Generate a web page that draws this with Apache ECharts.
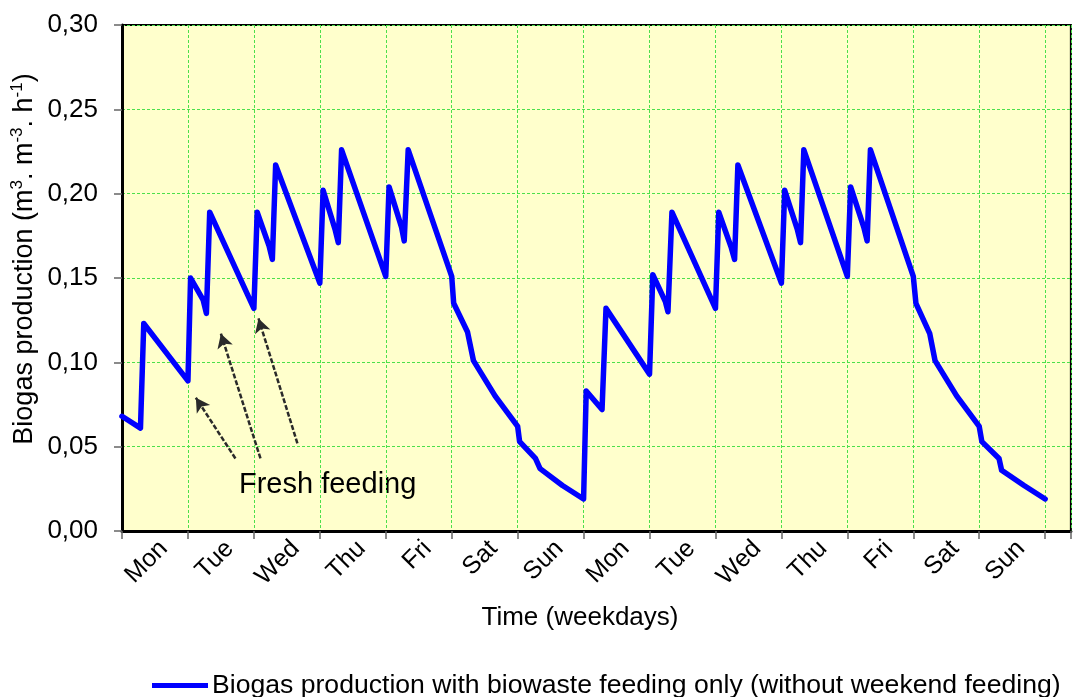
<!DOCTYPE html>
<html>
<head>
    <meta charset="utf-8">
    <title>Biogas production</title>
    <script src="https://cdn.jsdelivr.net/npm/echarts@6/dist/echarts.min.js"></script>
</head>
<body style="margin:0px;background-color:#ffffff;">
    <div id="main" style="width:1073px;height:697px;"></div>
    <script type="text/javascript">
        // weekday labels, one per day band
        var dayLabels = ['Mon', 'Tue', 'Wed', 'Thu', 'Fri', 'Sat', 'Sun',
                         'Mon', 'Tue', 'Wed', 'Thu', 'Fri', 'Sat', 'Sun'];
        var yTicks = [0, 0.05, 0.10, 0.15, 0.20, 0.25, 0.30];
        // visible part of the time axis (days), plot runs past the right edge
        var xRange = [0, 14.39];

        // time in days since Monday 0:00
        var timeDays = [
            0.00, 0.28, 0.33, 1.00, 1.04, 1.23, 1.28, 1.33, 2.00, 2.05,
            2.23, 2.28, 2.33, 3.00, 3.05, 3.23, 3.28, 3.33, 4.00, 4.05,
            4.24, 4.28, 4.34, 5.00, 5.03, 5.24, 5.33, 5.66, 6.00, 6.03,
            6.27, 6.34, 6.68, 7.00,
            7.04, 7.28, 7.34, 8.00, 8.05, 8.24, 8.28, 8.34, 9.00, 9.05,
            9.24, 9.29, 9.34, 10.00, 10.05, 10.24, 10.29, 10.34, 11.00, 11.05,
            11.25, 11.30, 11.35, 12.00, 12.04, 12.25, 12.33, 12.66, 13.00, 13.04,
            13.30, 13.34, 13.68, 14.00
        ];
        // biogas production (m3 / m3 / h)
        var biogas = [
            0.068, 0.061, 0.123, 0.089, 0.150, 0.137, 0.129, 0.189, 0.132, 0.189,
            0.169, 0.161, 0.217, 0.147, 0.202, 0.179, 0.171, 0.226, 0.151, 0.204,
            0.180, 0.172, 0.226, 0.151, 0.135, 0.118, 0.101, 0.080, 0.062, 0.053,
            0.043, 0.037, 0.027, 0.019,
            0.083, 0.072, 0.132, 0.093, 0.152, 0.136, 0.130, 0.189, 0.132, 0.189,
            0.168, 0.161, 0.217, 0.147, 0.202, 0.179, 0.171, 0.226, 0.151, 0.204,
            0.180, 0.172, 0.226, 0.151, 0.135, 0.117, 0.101, 0.080, 0.062, 0.053,
            0.043, 0.036, 0.027, 0.019
        ];

        // "Fresh feeding" arrows: [tailDay, tailValue, headDay, headValue]
        var feedArrows = [
            [1.72, 0.043, 1.12, 0.079],
            [2.10, 0.043, 1.50, 0.117],
            [2.66, 0.052, 2.07, 0.126]
        ];

        var seriesName = 'Biogas production with biowaste feeding only (without weekend feeding)';
        var fontFam = '"Liberation Sans", Arial, sans-serif';

        var points = [];
        for (var i = 0; i < timeDays.length; i++) {
            points.push([timeDays[i], biogas[i]]);
        }
        var arrowLines = feedArrows.map(function (a) {
            return [{ coord: [a[0], a[1]] }, { coord: [a[2], a[3]] }];
        });

        // day name sits in the middle of its band (x.5)
        function dayLabel(v) {
            var d = Math.floor(v + 1e-6);
            if (Math.abs(v - d - 0.5) < 1e-6 && d < dayLabels.length) {
                return dayLabels[d];
            }
            return '';
        }

        var gridLine = { show: true, lineStyle: { color: '#4be04b', width: 1, type: [3, 2] } };

        var myChart = echarts.init(document.getElementById('main'));
        var option = {
            animation: false,
            backgroundColor: '#ffffff',
            textStyle: { fontFamily: fontFam },
            grid: {
                left: 122, top: 25, right: 0, height: 506,
                show: true, backgroundColor: '#ffffcc',
                borderColor: '#000000', borderWidth: 2
            },
            legend: {
                left: 152, top: 672, padding: 0,
                icon: 'rect', itemWidth: 56, itemHeight: 5, itemGap: 4,
                textStyle: { fontSize: 26.6, color: '#000', fontFamily: fontFam, padding: [0, 0, 0, -1] },
                data: [seriesName]
            },
            xAxis: [{
                type: 'value', position: 'bottom',
                min: xRange[0], max: xRange[1], interval: 1,
                axisLine: { show: true, onZero: false, lineStyle: { color: '#000', width: 3 } },
                axisTick: { show: true, length: 8, lineStyle: { color: '#666', width: 1.5 } },
                axisLabel: { show: false },
                splitLine: gridLine
            }, {
                type: 'value', position: 'bottom',
                min: xRange[0], max: xRange[1], interval: 0.5,
                axisLine: { show: false },
                axisTick: { show: false },
                splitLine: { show: false },
                axisLabel: {
                    rotate: 45, margin: 5, verticalAlign: 'top', align: 'right',
                    fontSize: 25, color: '#000', fontFamily: fontFam,
                    showMinLabel: true, showMaxLabel: true,
                    formatter: dayLabel
                }
            }],
            yAxis: {
                type: 'value',
                min: yTicks[0], max: yTicks[yTicks.length - 1], interval: 0.05,
                axisLine: { show: true, lineStyle: { color: '#000', width: 3 } },
                axisTick: { show: true, length: 8, lineStyle: { color: '#666', width: 1.5 } },
                axisLabel: {
                    margin: 24, fontSize: 26, color: '#000', fontFamily: fontFam,
                    formatter: function (v) { return v.toFixed(2).replace('.', ','); }
                },
                splitLine: gridLine
            },
            graphic: [{
                type: 'text',
                x: 25, y: 259, rotation: Math.PI / 2,
                style: {
                    text: '{a|Biogas production (m}{s|3}{a|. m}{s|-3}{a|. h}{s|-1}{a|)}',
                    align: 'center', verticalAlign: 'middle', fill: '#000',
                    rich: {
                        a: { fontSize: 27, fontFamily: fontFam, fill: '#000', lineHeight: 32 },
                        s: { fontSize: 17, fontFamily: fontFam, fill: '#000', verticalAlign: 'top', lineHeight: 32 }
                    }
                }
            }, {
                type: 'text',
                x: 580, y: 618,
                style: {
                    text: 'Time (weekdays)', font: '26px ' + fontFam,
                    align: 'center', verticalAlign: 'middle', fill: '#000'
                }
            }, {
                type: 'text',
                x: 239, y: 485,
                style: {
                    text: 'Fresh feeding', font: '29px ' + fontFam,
                    align: 'left', verticalAlign: 'middle', fill: '#000'
                }
            }],
            series: [{
                name: seriesName,
                type: 'line',
                xAxisIndex: 0,
                data: points,
                showSymbol: false,
                symbol: 'none',
                itemStyle: { color: '#0000ff' },
                lineStyle: { color: '#0000ff', width: 5.5, cap: 'round', join: 'round' },
                markLine: {
                    silent: true,
                    symbol: ['none', 'arrow'],
                    symbolSize: [12, 14],
                    label: { show: false },
                    lineStyle: { color: '#2a2a2a', width: 2.5, type: [5, 2] },
                    data: arrowLines
                }
            }]
        };
        myChart.setOption(option);
    </script>
</body>
</html>
